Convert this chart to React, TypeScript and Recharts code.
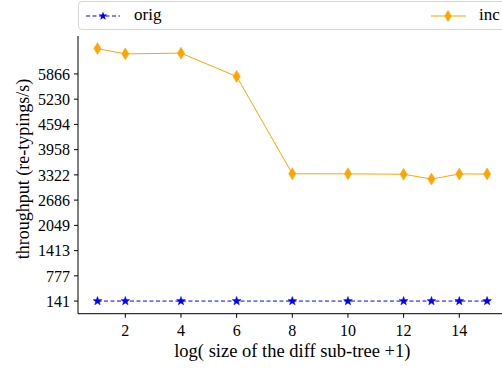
import React from "react";
import {LineChart, Line, XAxis, YAxis, Legend} from "recharts";

// x = log(size of the diff sub-tree + 1)
const sizes = [1, 2, 4, 6, 8, 10, 12, 13, 14, 15];
const origValues = [141, 141, 141, 141, 141, 141, 141, 141, 141, 141];
const incValues = [6504, 6372, 6390, 5802, 3350, 3348, 3338, 3216, 3345, 3343];

const xTicks = [2, 4, 6, 8, 10, 12, 14];
const yTicks = [141, 777, 1413, 2049, 2686, 3322, 3958, 4594, 5230, 5866];

const data = sizes.map((s, i) => ({size: s, orig: origValues[i], inc: incValues[i]}));

const FONT = "Liberation Serif";
const BLUE = "#0000ff";
const ORANGE = "#ffa500";

const starPoints = (cx: number, cy: number, R: number, r: number): string => {
    const pts: string[] = [];
    for (let k = 0; k < 10; k++) {
        const rad = k % 2 === 0 ? R : r;
        const a = -Math.PI / 2 + (k * Math.PI) / 5;
        pts.push(`${cx + rad * Math.cos(a)},${cy + rad * Math.sin(a)}`);
    }
    return pts.join(" ");
};

const diamondPoints = (cx: number, cy: number, w: number, h: number): string =>
    `${cx},${cy - h} ${cx + w},${cy} ${cx},${cy + h} ${cx - w},${cy}`;

const StarDot = (props: any) => {
    const {cx, cy, index} = props;
    if (cx == null || cy == null) return <g key={`s-${index}`}/>;
    return <polygon key={`s-${index}`} points={starPoints(cx, cy, 4.6, 1.9)} fill={BLUE} stroke={BLUE} strokeWidth={0.5}/>;
};

const DiamondDot = (props: any) => {
    const {cx, cy, index} = props;
    if (cx == null || cy == null) return <g key={`d-${index}`}/>;
    return <polygon key={`d-${index}`} points={diamondPoints(cx, cy, 3.6, 6)} fill={ORANGE} stroke={ORANGE} strokeWidth={0.5}/>;
};

const labelStyle: React.CSSProperties = {
    position: "absolute", top: 3, fontFamily: FONT, fontSize: 17, lineHeight: "20px", color: "#000", whiteSpace: "nowrap"
};

const renderLegend = () => (
    <div style={{
        width: 440, height: 29, boxSizing: "border-box", border: "1px solid #d6d6d6",
        borderRadius: 4, position: "relative"
    }}>
        <svg width={440} height={29} style={{position: "absolute", left: 0, top: 0}}>
            <line x1={7} x2={41} y1={14} y2={14} stroke={BLUE} strokeWidth={1} strokeDasharray="4 2.5"/>
            <polygon points={starPoints(24, 14, 4.6, 1.9)} fill={BLUE}/>
            <line x1={352} x2={387} y1={14} y2={14} stroke={ORANGE} strokeWidth={1}/>
            <polygon points={diamondPoints(369, 14, 3.6, 6)} fill={ORANGE}/>
        </svg>
        <span style={{...labelStyle, left: 55}}>orig</span>
        <span style={{...labelStyle, left: 400}}>inc</span>
    </div>
);

const YLabel = () => {
    const cx = 22.5;
    const cy = 169;
    return (
        <text x={cx} y={cy} transform={`rotate(-90, ${cx}, ${cy})`} textAnchor="middle" dominantBaseline="central"
              fill="#000" fontFamily={FONT} fontSize={18}>
            throughput (re-typings/s)
        </text>
    );
};

const App = (): JSX.Element => {
    return (
        <div style={{position: "absolute", left: 0, top: 0, width: 502, height: 369, overflow: "hidden", background: "#fff", fontFamily: FONT}}>
            <LineChart width={510} height={369} data={data} margin={{top: 36, right: 3.4, bottom: 0, left: 0}}>
                <XAxis
                    dataKey="size"
                    type="number"
                    domain={[0.3, 15.7]}
                    ticks={xTicks}
                    height={55.3}
                    stroke="#000"
                    tickSize={4}
                    tickMargin={7}
                    tick={{fill: "#000", fontSize: 16, fontFamily: FONT}}
                    label={{value: "log( size of the diff sub-tree +1)", position: "insideBottom", offset: 12, fill: "#000", fontSize: 18.5, fontFamily: FONT}}
                />
                <XAxis xAxisId="top" dataKey="size" type="number" orientation="top" domain={[0.3, 15.7]} height={0} tick={false} tickLine={false} stroke="#000"/>
                <YAxis
                    type="number"
                    domain={[-177.15, 6822.15]}
                    ticks={yTicks}
                    width={78}
                    stroke="#000"
                    tickSize={4}
                    tickMargin={4}
                    tick={{fill: "#000", fontSize: 16, fontFamily: FONT}}
                    label={<YLabel/>}
                />
                <Legend verticalAlign="middle" align="center" layout="horizontal" wrapperStyle={{top: 0.5, left: 78, width: 440, height: 29}} content={renderLegend}/>
                <Line name="orig" dataKey="orig" stroke={BLUE} strokeWidth={1} strokeDasharray="4 2.5" dot={StarDot} activeDot={false} isAnimationActive={false}/>
                <Line name="inc" dataKey="inc" stroke={ORANGE} strokeWidth={1} dot={DiamondDot} activeDot={false} isAnimationActive={false}/>
            </LineChart>
        </div>
    );
};

export default App;
